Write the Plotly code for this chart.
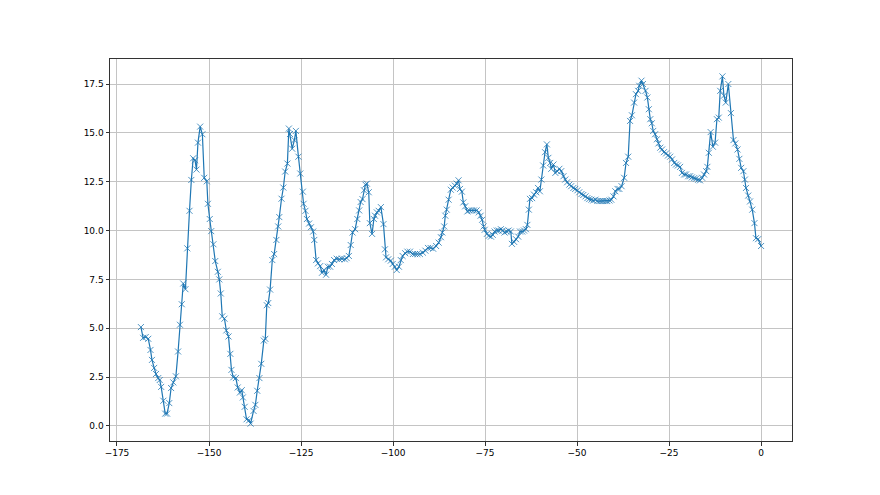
import plotly.graph_objects as go

x_vals = [
    -168.5, -167.9, -167.2, -166.5, -165.9, -165.5, -164.9, -164.4, -163.8, -163.4, -163.0, -162.4,
    -161.9, -161.4, -160.8, -160.3, -159.7, -159.0, -158.4, -157.9, -157.4, -157.0, -156.4,
    -155.9, -155.3, -154.8, -154.3, -153.8, -153.4, -153.0, -152.4, -151.8, -151.3, -150.6, -150.3,
    -149.8, -149.4, -148.8, -148.3, -147.6, -147.2, -146.8, -146.4, -145.8, -145.3,
    -144.7, -144.2, -143.9, -143.4, -142.7, -142.2, -141.6, -141.1, -140.8, -140.3, -139.8, -139.1,
    -138.7, -137.9, -137.4, -136.9, -136.3, -135.8, -135.1, -134.7, -134.3, -133.9, -133.4,
    -132.8, -132.3, -131.7, -131.2, -130.9, -130.3, -129.8, -129.3, -128.7, -128.3, -128.0, -127.4,
    -126.8, -126.4, -125.7, -125.2, -124.5, -124.3, -123.8, -123.4, -122.8, -122.3, -121.7, -121.4,
    -120.9, -120.4, -119.8, -119.3, -118.8, -118.2, -117.7, -117.1, -116.6, -116.0,
    -115.3, -114.6, -113.9, -113.1, -112.6, -112.0, -111.5, -111.0, -110.3, -109.7, -109.2, -108.8,
    -108.3, -107.9, -107.5, -107.1, -106.6, -106.3, -105.7, -105.2, -104.9, -104.4, -103.9, -103.3,
    -102.6, -102.2, -101.9, -101.3, -100.6, -100.1, -99.5, -99.0, -98.4, -97.9, -97.4, -96.7, -96.1,
    -95.4, -94.6, -94.0, -93.4, -92.7, -91.9, -91.2, -90.5, -89.8, -89.1, -88.3, -87.6, -87.0, -86.6,
    -86.1, -85.8, -85.4, -84.9, -84.3, -83.8, -83.2, -82.7, -82.2, -81.8, -81.3, -80.9, -80.4, -79.8,
    -79.3, -78.6, -78.0, -77.3, -76.7, -76.2, -75.8, -75.4, -75.1, -74.5, -74.0, -73.4, -72.9, -72.4,
    -71.8, -71.3, -70.7, -70.2, -69.7, -69.1, -68.6, -68.0, -67.7, -67.1, -66.6, -66.0, -65.5, -64.9,
    -64.4, -63.9, -63.5, -63.1, -62.8,
    -62.2, -61.7, -61.1, -60.6, -60.1, -59.7, -59.2, -58.7, -58.2, -57.8, -57.3, -57.0, -56.4, -55.9,
    -55.4, -54.8, -54.3, -53.7, -53.2, -52.7, -52.1, -51.6, -51.0, -50.5, -49.9, -49.4, -48.8, -48.3,
    -47.7, -47.2, -46.7, -46.1, -45.6, -45.0, -44.5, -43.9, -43.4, -42.9, -42.3, -41.8, -41.2, -40.7,
    -40.1, -39.6, -39.0, -38.5,
    -37.9, -37.2, -36.7, -36.1, -35.6, -35.1, -34.5, -34.0, -33.4, -33.1, -32.5, -32.1, -31.4, -30.9,
    -30.5, -30.1, -29.7, -29.3, -28.8, -28.3, -27.9, -27.4, -26.9, -26.4, -25.8, -25.3, -24.7, -24.2,
    -23.6, -23.1, -22.6, -22.0, -21.5, -20.9, -20.4, -19.8,
    -19.3, -18.8, -18.2, -17.7, -17.1, -16.6, -16.0, -15.5, -14.9, -14.6, -14.2, -13.7, -13.1, -12.5,
    -12.0, -11.5, -11.1, -10.5, -10.1, -9.6, -8.9, -8.2, -7.5, -7.0, -6.4, -5.9, -5.4, -4.8, -4.4,
    -4.1, -3.5, -3.0, -2.4, -1.8, -1.4, -0.8, 0.0,
]

y_vals = [
    5.06, 4.51, 4.55, 4.46, 3.89, 3.38, 2.97, 2.66, 2.45, 2.35, 2.0, 1.29,
    0.63, 0.63, 1.17, 1.94, 2.23, 2.54, 3.81, 5.18, 6.23, 7.29, 7.0,
    9.09, 11.01, 12.59, 13.7, 13.6, 13.12, 14.5, 15.32, 14.93, 12.7, 12.52, 11.37,
    10.59, 9.97, 9.3, 8.44, 7.89, 7.5, 6.78, 5.61, 5.49, 4.89,
    4.58, 3.69, 2.87, 2.49, 2.45, 1.97, 1.71, 1.83, 1.46, 0.98, 0.34, 0.29,
    0.12, 0.77, 1.08, 1.8, 2.45, 3.18, 4.37, 4.46, 6.18, 6.29, 6.98,
    8.49, 8.8, 9.52, 10.21, 10.69, 11.63, 12.2, 13.02, 13.43, 15.22, 14.94, 14.19,
    14.63, 15.1, 13.78, 12.92, 11.99, 11.37, 11.01, 10.59, 10.36, 10.17, 9.95, 9.52,
    8.49, 8.32, 8.18, 7.84, 7.98, 7.74, 8.15, 8.15, 8.29, 8.49,
    8.56, 8.53, 8.56, 8.53, 8.59, 8.7, 9.26, 9.9, 10.07, 10.59, 11.03, 11.46,
    11.61, 12.06, 12.35, 12.4, 11.96, 10.38, 9.83, 10.59, 10.76, 10.93, 11.01, 11.2,
    10.33, 9.04, 8.63, 8.53, 8.46, 8.29, 8.15, 7.98, 8.15, 8.49, 8.7, 8.84, 8.92,
    8.92, 8.8, 8.8, 8.8, 8.8, 8.87, 8.97, 9.11, 9.11, 9.07, 9.21, 9.38, 9.66, 9.9,
    10.21, 10.76, 11.07, 11.58, 12.09, 12.2, 12.3, 12.4, 12.57, 12.13, 11.99, 11.44, 11.24, 10.98,
    11.03, 11.03, 11.03, 11.03, 10.93, 10.76, 10.55, 10.21, 10.04, 9.83, 9.73, 9.69, 9.78, 9.95,
    10.0, 10.0, 10.07, 10.0, 9.9, 9.95, 10.0, 9.95, 9.32, 9.42, 9.56, 9.69, 9.95, 9.95,
    10.0, 10.07, 10.29, 11.07, 11.62,
    11.66, 11.84, 11.96, 12.18, 12.01, 12.61, 13.33, 14.01, 14.41, 13.72, 13.46, 13.16, 13.38, 12.95,
    13.04, 13.16, 13.04, 12.78, 12.61, 12.47, 12.35, 12.27, 12.18, 12.13, 12.06, 11.96, 11.87, 11.82,
    11.75, 11.66, 11.61, 11.58, 11.54, 11.58, 11.51, 11.51, 11.51, 11.51, 11.51, 11.51, 11.54, 11.58,
    11.75, 12.01, 12.13, 12.13,
    12.27, 12.7, 13.46, 13.78, 15.61, 15.9, 16.55, 16.98, 17.15, 17.41, 17.67, 17.5, 17.15, 16.81,
    16.21, 15.7, 15.49, 15.1, 14.93, 14.67, 14.46, 14.24, 14.15, 14.01, 13.95, 13.84, 13.78, 13.64,
    13.46, 13.38, 13.33, 13.26, 12.95, 12.87, 12.87, 12.78,
    12.78, 12.72, 12.68, 12.65, 12.6, 12.57, 12.7, 12.87, 13.04, 13.26, 13.98, 15.04, 14.29, 14.5,
    15.7, 15.78, 17.15, 17.89, 16.9, 16.55, 17.5, 16.01, 14.63, 14.46, 14.15, 13.67, 13.21, 13.04, 12.61,
    12.18, 11.79, 11.49, 11.07, 10.38, 9.61, 9.56, 9.21,
]

x_ticks = [-175, -150, -125, -100, -75, -50, -25, 0]
y_ticks = [0.0, 2.5, 5.0, 7.5, 10.0, 12.5, 15.0, 17.5]

fig = go.Figure()
fig.add_trace(go.Scatter(
    x=x_vals, y=y_vals, mode="lines+markers",
    line=dict(color="#1f77b4", width=1.2),
    marker=dict(symbol="x-thin", size=6, line=dict(color="#1f77b4", width=0.8)),
    showlegend=False,
))

axis_common = dict(
    showgrid=True, gridcolor="#c4c4c4", gridwidth=0.8,
    zeroline=False, showline=True, linecolor="#333333", linewidth=1, mirror=True,
    ticks="outside", ticklen=3.5, tickcolor="#333333", tickwidth=0.8,
    tickfont=dict(family="DejaVu Sans", size=9, color="black"),
)

fig.update_xaxes(range=[-176.9, 8.4], tickvals=x_ticks,
                 ticktext=[str(v).replace("-", "\u2212") for v in x_ticks], **axis_common)
fig.update_yaxes(range=[-0.77, 18.78], tickvals=y_ticks,
                 ticktext=[f"{v:.1f}" for v in y_ticks], **axis_common)

fig.update_layout(
    width=872, height=487,
    margin=dict(l=102, r=88, t=51, b=54),
    paper_bgcolor="white", plot_bgcolor="white",
)

fig.write_html("out.html")
